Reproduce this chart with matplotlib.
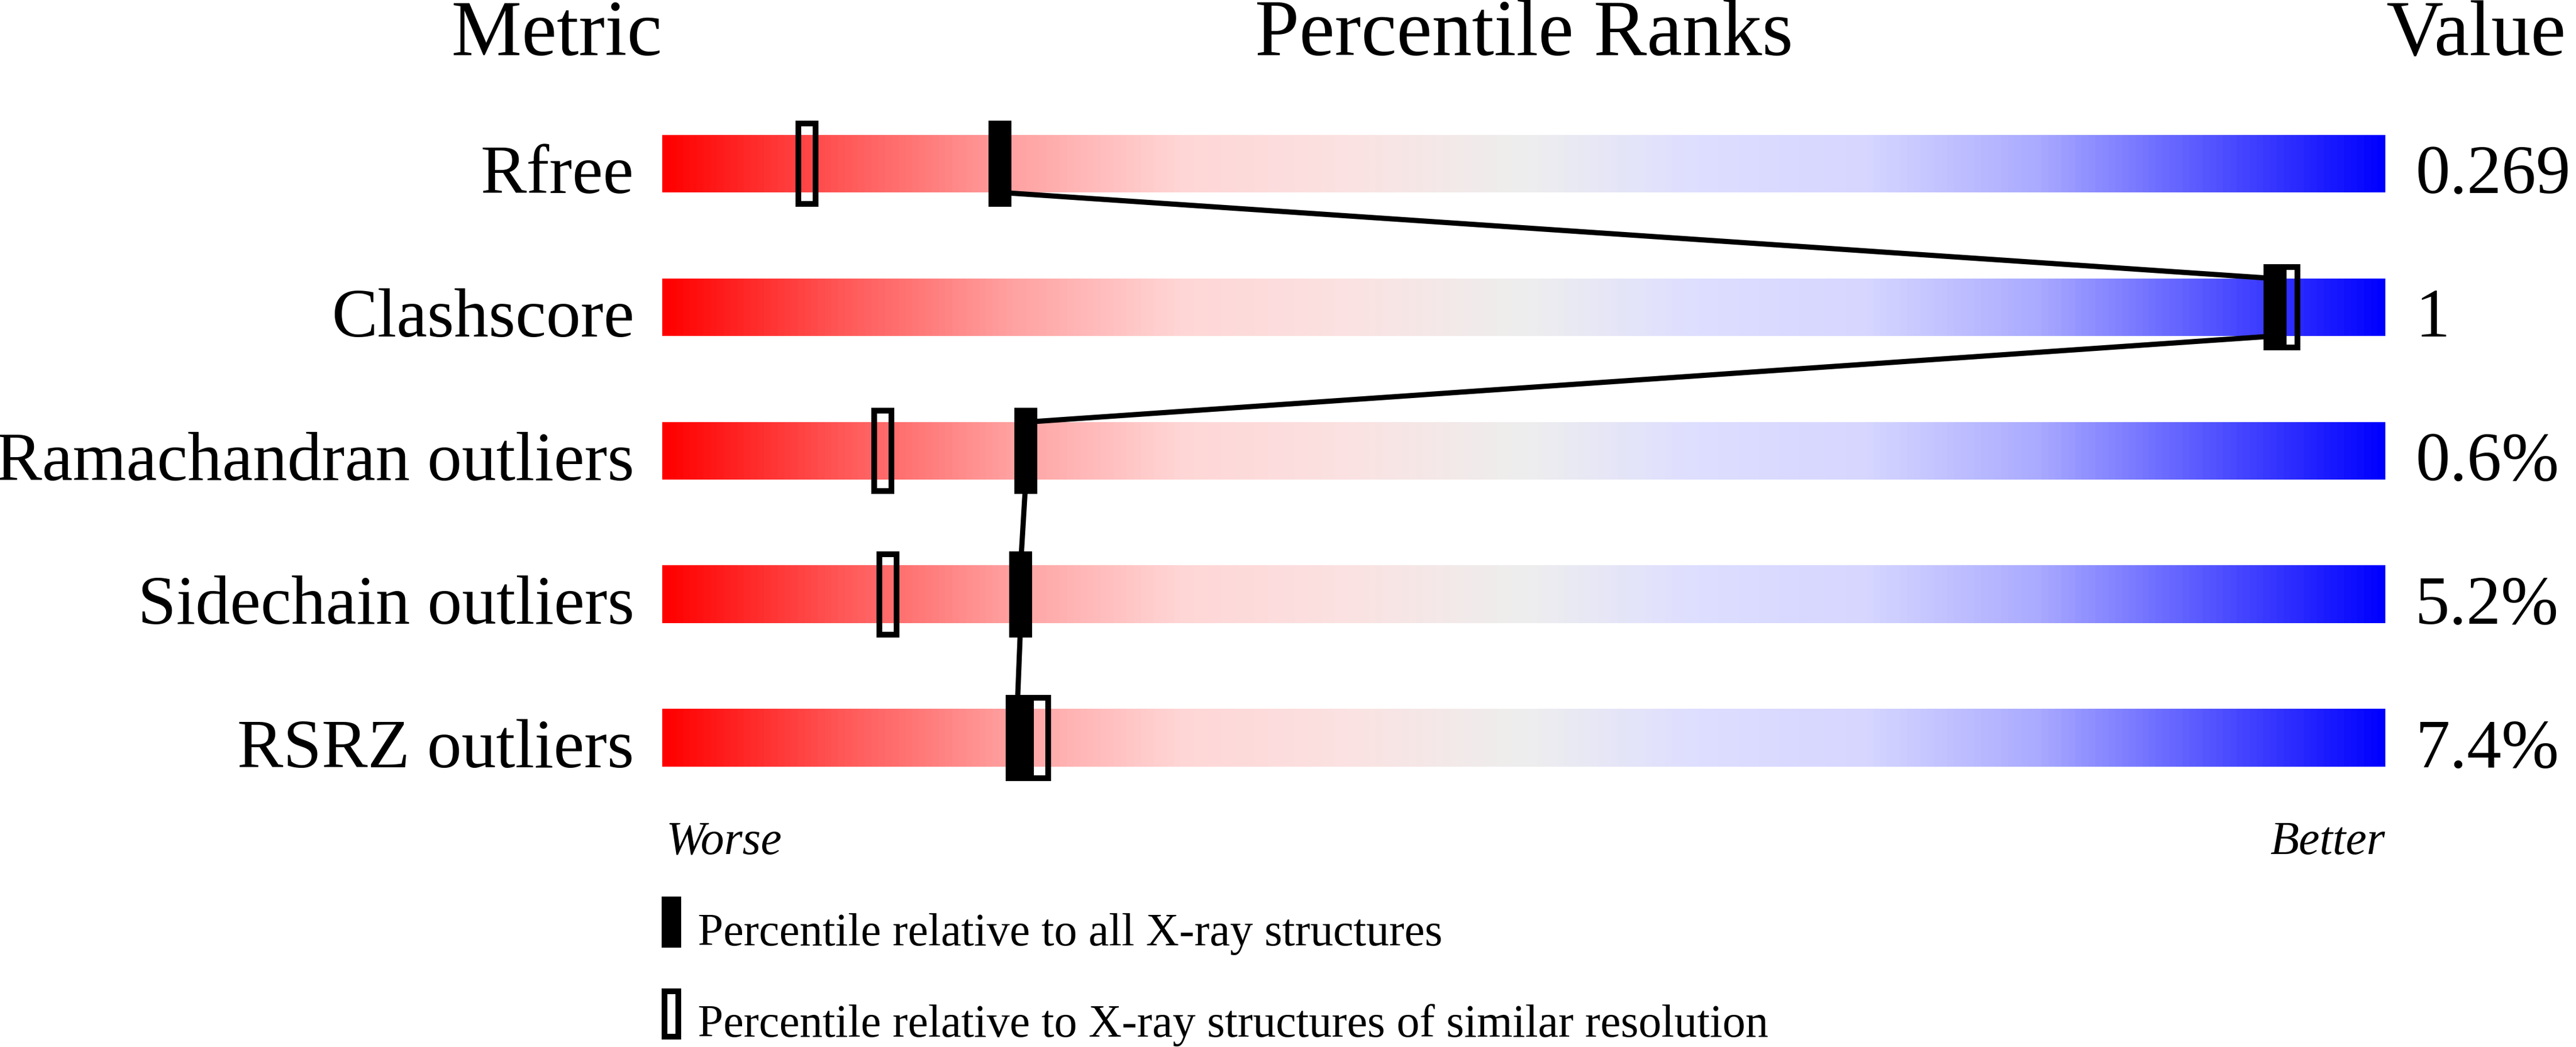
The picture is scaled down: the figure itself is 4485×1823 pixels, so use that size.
import numpy as np
import matplotlib
matplotlib.use('Agg')
import matplotlib.pyplot as plt
import matplotlib.transforms as mtransforms
from matplotlib.colors import LinearSegmentedColormap
from matplotlib.patches import Rectangle

plt.rcParams['font.family'] = ['Liberation Serif', 'DejaVu Serif']

# data
metrics = ['Rfree', 'Clashscore', 'Ramachandran outliers', 'Sidechain outliers', 'RSRZ outliers']
values = ['0.269', '1', '0.6%', '5.2%', '7.4%']
pct_all = [19.6, 93.6, 21.1, 20.8, 20.6]        # filled marker
pct_similar = [8.4, 94.4, 12.8, 13.1, 21.9]     # open marker
legend_labels = ['Percentile relative to all X-ray structures',
                 'Percentile relative to X-ray structures of similar resolution']

# red -> grey -> blue slider colours
grad_pos = [0.0, 0.1, 0.2, 0.3, 0.4, 0.5, 0.6, 0.7, 0.8, 0.9, 1.0]
grad_col = ['#ff0000', '#ff5555', '#ffa0a0', '#ffd6d6', '#fbe2e2', '#eeeeee',
            '#dedeff', '#d6d6ff', '#aaaaff', '#5555ff', '#0000ff']
cmap = LinearSegmentedColormap.from_list('slider', list(zip(grad_pos, grad_col)))

W, H = 4485, 1824
fig = plt.figure(figsize=(W / 100, H / 100), dpi=100)

# overlay in pixel coords for the free text
ov = fig.add_axes([0, 0, 1, 1])
ov.set_xlim(0, W)
ov.set_ylim(H, 0)
ov.axis('off')

# main axes: x = percentile, y = row
ax = fig.add_axes([1153 / W, 1 - 1411 / H, 3000 / W, 1250 / H])
ax.axis('off')

n = len(metrics)
grad = np.linspace(0, 1, 800).reshape(1, -1)
for i in range(n):
    ax.imshow(grad, cmap=cmap, extent=(0, 100, i + 0.2, i - 0.2),
              aspect='auto', interpolation='bilinear', zorder=1)

# connecting line through the filled markers
xs, ys = [], []
for i in range(n):
    xs += [pct_all[i], pct_all[i]]
    ys += [i - 0.2, i + 0.2]
ax.plot(xs, ys, color='black', lw=6.5, solid_capstyle='butt', zorder=3)

for i in range(n):
    ax.add_patch(Rectangle((pct_all[i] - 0.667, i - 0.3), 1.333, 0.6,
                           facecolor='black', edgecolor='none', zorder=4))
    ax.add_patch(Rectangle((pct_similar[i] - 0.5, i - 0.28), 1.0, 0.56,
                           facecolor='none', edgecolor='black', lw=7.2, zorder=5))

ax.set_xlim(0, 100)
ax.set_ylim(n - 0.5, -0.5)

# headers
ov.text(1153, 96, 'Metric', ha='right', va='baseline', fontsize=99)
ov.text(2653, 96, 'Percentile Ranks', ha='center', va='baseline', fontsize=100)
ov.text(4155, 96, 'Value', ha='left', va='baseline', fontsize=99)

# row labels and values
trans = mtransforms.blended_transform_factory(ov.transData, ax.transData)
for i in range(n):
    ax.text(1104, i + 0.2, metrics[i], transform=trans, ha='right', va='baseline', fontsize=86.5)
    ax.text(4205, i + 0.2, values[i], transform=trans, ha='left', va='baseline', fontsize=86.5)

ov.text(1160, 1487, 'Worse', style='italic', ha='left', va='baseline', fontsize=59)
ov.text(4152, 1487, 'Better', style='italic', ha='right', va='baseline', fontsize=59)

# legend
ov.add_patch(Rectangle((1152, 1562), 34, 89, facecolor='black', edgecolor='none'))
ov.add_patch(Rectangle((1157, 1727), 24, 79, facecolor='none', edgecolor='black', lw=7.2))
ov.text(1215, 1646, legend_labels[0], ha='left', va='baseline', fontsize=57.5)
ov.text(1215, 1805, legend_labels[1], ha='left', va='baseline', fontsize=57.5)

fig.savefig('out.png', dpi=100)
